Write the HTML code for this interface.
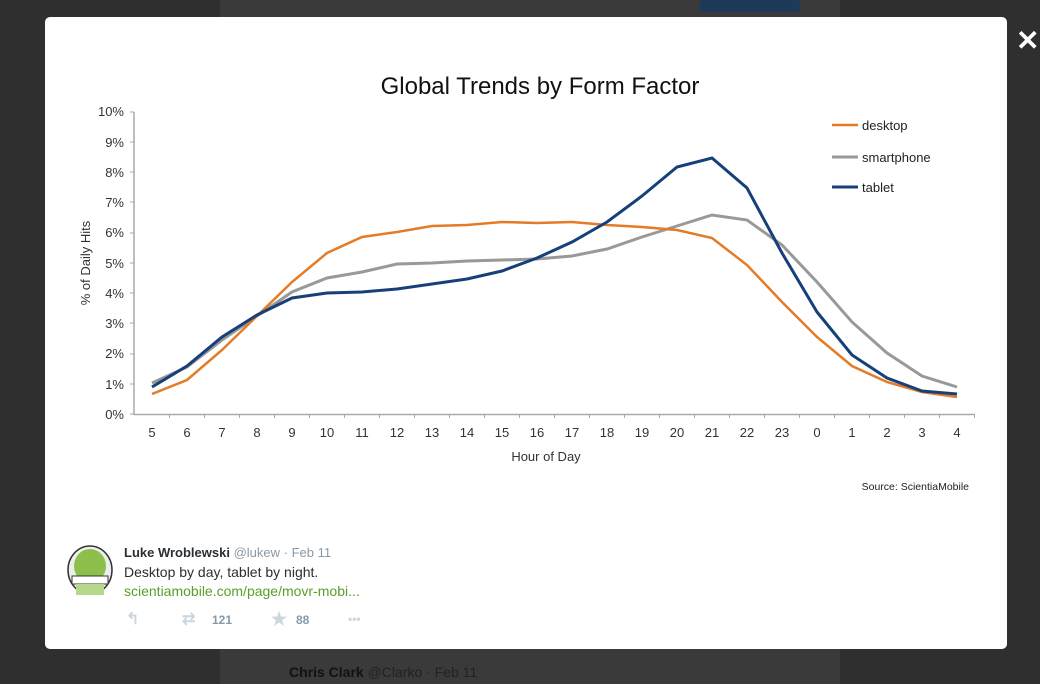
<!DOCTYPE html>
<html><head><meta charset="utf-8"><style>
body{margin:0;width:1040px;height:684px;background:#2f2f2f;overflow:hidden;font-family:"Liberation Sans",sans-serif;position:relative}
.modal{position:absolute;left:45px;top:17px;width:962px;height:632px;background:#fff;border-radius:5px}
.x{position:absolute;left:1016px;top:24px;color:#fff;font-size:28px;font-weight:bold}
</style></head><body>
<div style="position:absolute;left:220px;top:0;width:620px;height:684px;background:#3a3a3a"></div>
<div style="position:absolute;left:700px;top:0;width:100px;height:12px;background:#1d3a5a;border-radius:3px"></div>
<div style="position:absolute;left:289px;top:664px;color:#111;font-size:14px;font-weight:bold">Chris Clark <span style="font-weight:normal;color:#222">@Clarko · Feb 11</span></div>
<div class="x">✕</div>
<div class="modal"></div>
<svg width="1040" height="684" style="position:absolute;left:0;top:0" font-family="Liberation Sans, sans-serif">
<text x="540" y="94" font-size="24" text-anchor="middle" fill="#111">Global Trends by Form Factor</text>
<g stroke="#aaa" stroke-width="1.5" fill="none">
<line x1="134" y1="112" x2="134" y2="415"/><line x1="134" y1="414.5" x2="975" y2="414.5"/>
</g>
<g id="yt" font-size="13" fill="#333" text-anchor="end">
<text x="124" y="419">0%</text><text x="124" y="389">1%</text><text x="124" y="358">2%</text><text x="124" y="328">3%</text><text x="124" y="298">4%</text><text x="124" y="268">5%</text><text x="124" y="237">6%</text><text x="124" y="207">7%</text><text x="124" y="177">8%</text><text x="124" y="147">9%</text><text x="124" y="116">10%</text>
</g>
<g stroke="#aaa" stroke-width="1">
<line x1="130" y1="414" x2="134" y2="414"/><line x1="130" y1="384" x2="134" y2="384"/><line x1="130" y1="354" x2="134" y2="354"/><line x1="130" y1="323" x2="134" y2="323"/><line x1="130" y1="293" x2="134" y2="293"/><line x1="130" y1="263" x2="134" y2="263"/><line x1="130" y1="233" x2="134" y2="233"/><line x1="130" y1="202" x2="134" y2="202"/><line x1="130" y1="172" x2="134" y2="172"/><line x1="130" y1="142" x2="134" y2="142"/><line x1="130" y1="112" x2="134" y2="112"/>
</g>
<g stroke="#aaa" stroke-width="1" id="xt"></g>
<g font-size="13" fill="#333" text-anchor="middle" id="xl"></g>
<text x="546" y="461" font-size="13" text-anchor="middle" fill="#333">Hour of Day</text>
<text transform="translate(90,263) rotate(-90)" font-size="13" text-anchor="middle" fill="#333">% of Daily Hits</text>
<polyline fill="none" stroke="#999" stroke-width="3" points="152,383 187,367 222,340 257,316 292,292 327,278 362,272 397,264 432,263 467,261 502,260 537,259 572,256 607,249 642,237 677,226 712,215 747,220 782,245 817,282 852,322 887,353 922,376 957,387"/>
<polyline fill="none" stroke="#e37b27" stroke-width="2.5" points="152,394 187,380 222,350 257,316 292,282 327,253 362,237 397,232 432,226 467,225 502,222 537,223 572,222 607,225 642,227 677,230 712,238 747,265 782,302 817,337 852,366 887,382 922,392 957,397"/>
<polyline fill="none" stroke="#17407a" stroke-width="3" points="152,387 187,366 222,337 257,315 292,298 327,293 362,292 397,289 432,284 467,279 502,271 537,258 572,242 607,222 642,196 677,167 712,158 747,188 782,253 817,312 852,355 887,378 922,391 957,394"/>
<g font-size="13" fill="#222">
<line x1="832" y1="125" x2="858" y2="125" stroke="#e37b27" stroke-width="2.5"/><text x="862" y="130">desktop</text>
<line x1="832" y1="157" x2="858" y2="157" stroke="#999" stroke-width="3"/><text x="862" y="162">smartphone</text>
<line x1="832" y1="187" x2="858" y2="187" stroke="#17407a" stroke-width="3"/><text x="862" y="192">tablet</text>
</g>
<text x="969" y="490" font-size="10.5" text-anchor="end" fill="#222">Source: ScientiaMobile</text>
<g>
<ellipse cx="90" cy="570" rx="22" ry="24" fill="#eee" stroke="#333" stroke-width="1.5"/>
<ellipse cx="90" cy="566" rx="16" ry="17" fill="#8cc04a"/>
<rect x="72" y="576" width="36" height="8" fill="#fff" stroke="#333" stroke-width="1"/>
<rect x="76" y="584" width="28" height="11" fill="#b5d88a"/>
</g>
<text x="124" y="557" font-size="13" fill="#292f33"><tspan font-weight="bold">Luke Wroblewski</tspan><tspan fill="#8899a6"> @lukew · Feb 11</tspan></text>
<text x="124" y="577" font-size="14" fill="#292f33">Desktop by day, tablet by night.</text>
<text x="124" y="596" font-size="14" fill="#5a9e2a">scientiamobile.com/page/movr-mobi...</text>
<g font-size="12" font-weight="bold" fill="#8899a6">
<text x="126" y="624" font-size="16" fill="#ccd6dd">↰</text>
<text x="182" y="624" font-size="16" fill="#ccd6dd">⇄</text><text x="212" y="624">121</text>
<text x="271" y="625" font-size="18" fill="#ccd6dd">★</text><text x="296" y="624">88</text>
<text x="348" y="623" fill="#ccd6dd">•••</text>
</g>
</svg>
<script>
var xt=document.getElementById('xt'),xl=document.getElementById('xl'),h=[5,6,7,8,9,10,11,12,13,14,15,16,17,18,19,20,21,22,23,0,1,2,3,4];
var s='',l='';for(var i=0;i<24;i++){var x=152+i*35;l+='<text x="'+x+'" y="437">'+h[i]+'</text>';s+='<line x1="'+(x+17.5)+'" y1="414" x2="'+(x+17.5)+'" y2="418"/>';}
xt.innerHTML=s;xl.innerHTML=l;
</script>
</body></html>
